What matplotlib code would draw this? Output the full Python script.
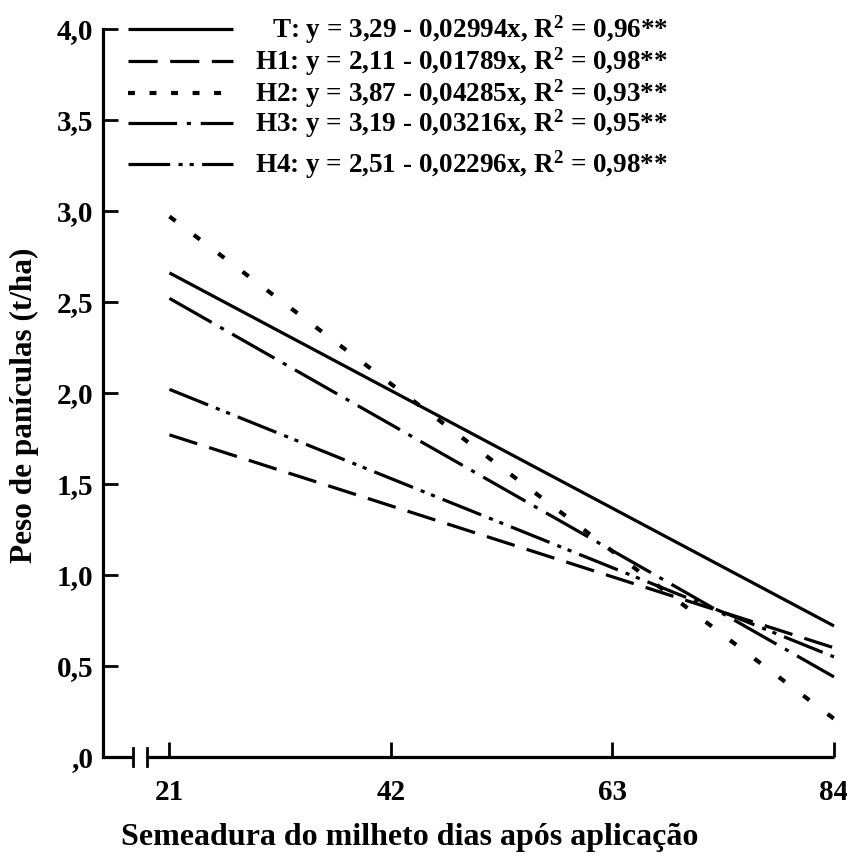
import matplotlib
matplotlib.use("Agg")
import matplotlib.pyplot as plt
from matplotlib.lines import Line2D

plt.rcParams['font.family'] = ['Liberation Serif', 'DejaVu Serif']
plt.rcParams['font.weight'] = 'bold'
plt.rcParams['mathtext.default'] = 'regular'
plt.rcParams['lines.scale_dashes'] = False

# ---- data ----
x_days = [21, 84]
series_names = ['T', 'H1', 'H2', 'H3', 'H4']
y_T = [2.66, 0.72]
y_H1 = [1.77, 0.60]
y_H2 = [2.97, 0.21]
y_H3 = [2.52, 0.44]
y_H4 = [2.02, 0.55]
legend_labels = [
    r'T: y = 3,29 - 0,02994x, R$^{2}$ = 0,96**',
    r'H1: y = 2,11 - 0,01789x, R$^{2}$ = 0,98**',
    r'H2: y = 3,87 - 0,04285x, R$^{2}$ = 0,93**',
    r'H3: y = 3,19 - 0,03216x, R$^{2}$ = 0,95**',
    r'H4: y = 2,51 - 0,02296x, R$^{2}$ = 0,98**',
]
x_ticks = [21, 42, 63, 84]
x_ticklabels = ['21', '42', '63', '84']
y_ticks = [0, 0.5, 1.0, 1.5, 2.0, 2.5, 3.0, 3.5, 4.0]
y_ticklabels = [',0', '0,5', '1,0', '1,5', '2,0', '2,5', '3,0', '3,5', '4,0']

styles = [
    '-',
    (0, (21, 9)),
    (0, (5.5, 16.5)),
    (0, (35, 7, 3, 7)),
    (0, (30, 6, 3, 5, 3, 6)),
]
legend_styles = [
    '-',
    (0, (21, 9)),
    (0, (5, 10.5)),
    (0, (35, 7, 3, 7)),
    (0, (30, 6, 3, 5, 3, 6)),
]
all_y = [y_T, y_H1, y_H2, y_H3, y_H4]

W, H = 847, 861
fig = plt.figure(figsize=(W / 100, H / 100), dpi=100)
left_px, right_px, bot_px, top_px = 103, 834, 757, 29
ax = fig.add_axes([left_px / W, (H - bot_px) / H, (right_px - left_px) / W, (bot_px - top_px) / H])

lw = 2.3
for i, ys in enumerate(all_y):
    ax.plot(x_days, ys, color='black', lw=(3.0 if i == 2 else lw), linestyle=styles[i],
            clip_on=False, solid_capstyle='butt', dash_capstyle='butt')

xmin = 14.7
ax.set_xlim(xmin, 84)
ax.set_ylim(0, 4.0)
for s in ['top', 'right', 'bottom']:
    ax.spines[s].set_visible(False)
ax.spines['left'].set_linewidth(2.3)

# broken bottom axis
b1, b2 = 17.5, 18.9
ax.plot([xmin, b1], [0, 0], color='black', lw=2.3, clip_on=False, solid_capstyle='butt')
ax.plot([b2, 84], [0, 0], color='black', lw=2.3, clip_on=False, solid_capstyle='butt')
for bx in (b1, b2):
    ax.plot([bx, bx], [-0.05, 0.05], color='black', lw=2.0, clip_on=False)

ax.set_xticks(x_ticks)
ax.set_xticklabels(x_ticklabels)
ax.set_yticks(y_ticks)
ax.set_yticklabels(y_ticklabels)
ax.tick_params(axis='both', direction='in', length=11, width=2.0, labelsize=21, pad=7)
ax.tick_params(axis='x', pad=16)
for lab in ax.get_xticklabels() + ax.get_yticklabels():
    lab.set_fontweight('bold')

ax.set_xlabel('Semeadura do milheto dias após aplicação', fontsize=23, fontweight='bold')
ax.set_ylabel('Peso de panículas (t/ha)', fontsize=22.5, fontweight='bold')
ax.xaxis.set_label_coords(0.42, -0.111)
ax.xaxis.label.set_va('center')
ax.yaxis.set_label_coords(-0.107, 0.5 + (757 - 405.5 - 364) / 728)
ax.yaxis.label.set_va('center')

# legend drawn in pixel coordinates
lax = fig.add_axes([0, 0, 1, 1])
lax.set_xlim(0, W)
lax.set_ylim(H, 0)
lax.axis('off')
rows = [29, 61, 93, 123, 164]
for i, (yy, lab) in enumerate(zip(rows, legend_labels)):
    lax.add_line(Line2D([128, 233], [yy, yy], color='black',
                        lw=(3.0 if i == 2 else lw), linestyle=legend_styles[i],
                        solid_capstyle='butt', dash_capstyle='butt'))
    lax.text(668, yy + 1, lab, ha='right', va='center', fontsize=19.5, fontweight='bold')

fig.savefig('out.png', dpi=100)
